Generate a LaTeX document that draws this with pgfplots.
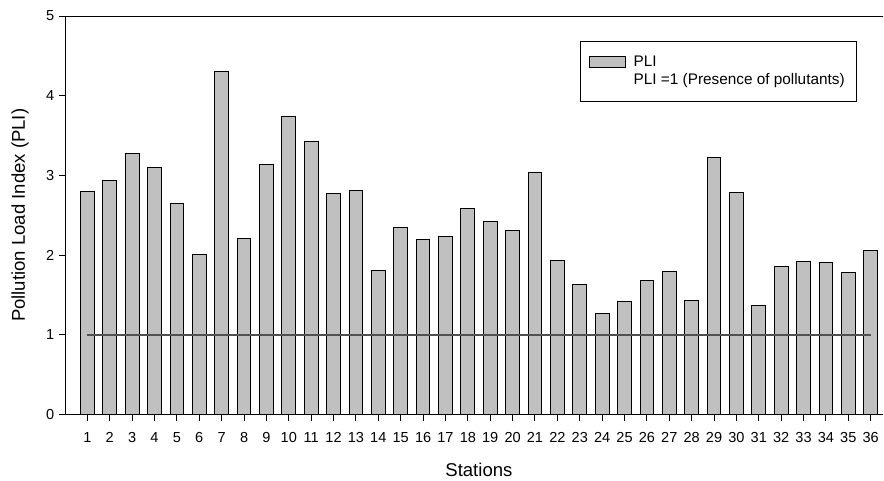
\documentclass[border=0pt]{standalone}
\usepackage{fontspec}
\setmainfont{Liberation Sans}
\usepackage{pgfplots}
\pgfplotsset{compat=1.18}
\usepackage{pgfplotstable}
\definecolor{barfill}{HTML}{C0C0C0}
\definecolor{refline}{HTML}{505050}
\pgfplotstableread{
x y
1 2.80
2 2.94
3 3.27
4 3.10
5 2.65
6 2.01
7 4.30
8 2.21
9 3.14
10 3.74
11 3.43
12 2.78
13 2.81
14 1.81
15 2.35
16 2.20
17 2.24
18 2.58
19 2.42
20 2.31
21 3.04
22 1.93
23 1.63
24 1.27
25 1.42
26 1.68
27 1.79
28 1.43
29 3.23
30 2.79
31 1.37
32 1.86
33 1.92
34 1.91
35 1.78
36 2.06
}\pli
\begin{document}
\begin{tikzpicture}
\begin{axis}[
  at={(0,0)}, anchor=south west,
  scale only axis,
  width=613.5pt, height=299pt,
  xmin=0, xmax=36.55, ymin=0, ymax=5,
  axis x line*=bottom, axis y line*=left,
  axis line style={black, line width=0.75pt},
  xtick={1,...,36}, ytick={0,1,2,3,4,5},
  tick align=outside, major tick length=4.5pt,
  tick style={black, line width=0.75pt},
  /pgf/number format/assume math mode=true,
  tick label style={font=\fontsize{10.9}{13}\selectfont},
  xticklabel style={yshift=-5pt},
  xlabel={Stations}, ylabel={Pollution Load Index (PLI)},
  label style={font=\fontsize{13.9}{16}\selectfont},
  x label style={at={(axis description cs:0.506,-0.1563)}, anchor=base},
  y label style={at={(axis description cs:-0.0489,0.5)}, rotate=0, anchor=base},
  legend style={draw=black, line width=0.75pt, fill=white,
    at={(axis description cs:0.629,0.9385)}, anchor=north west,
    font=\fontsize{11.5}{13}\selectfont, inner xsep=7pt, inner ysep=9pt,
    row sep=0pt,
    /tikz/every odd column/.append style={column sep=3.5pt}},
  legend cell align=left,
]
\addplot[ybar, bar width=10.3pt, fill=barfill, draw=black, line width=0.75pt,
  legend image code/.code={\draw[fill=barfill, draw=black, line width=0.75pt] (0pt,-4.1pt) rectangle (27pt,4.1pt);}]
  table[x=x, y=y] {\pli};
\addlegendentry{PLI}
\addplot[refline, line width=1pt,
  legend image code/.code={\path[draw=none, fill=none] (0pt,-4.1pt) rectangle (27pt,4.1pt);}]
  coordinates {(1,1) (36,1)};
\addlegendentry{PLI =1 (Presence of pollutants)}
\end{axis}
\draw[black, line width=0.75pt] (0pt,299pt) -- (613.5pt,299pt);
\pgfresetboundingbox
\path (-48.75pt,-49pt) rectangle (614.25pt,311pt);
\end{tikzpicture}
\end{document}
